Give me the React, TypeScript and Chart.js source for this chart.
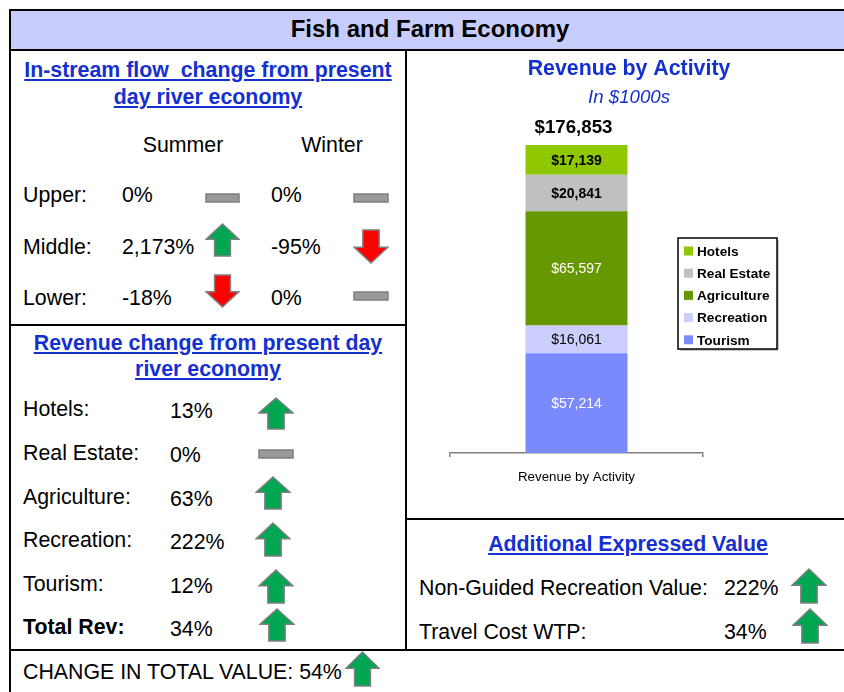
import React, { useEffect, useRef } from "react";
import { Chart, registerables } from "chart.js";

Chart.register(...registerables);

// ---------- data ----------
const CATEGORIES = ["Revenue by Activity"];
const ACTIVITIES = ["Tourism", "Recreation", "Agriculture", "Real Estate", "Hotels"];
const REVENUE = [57214, 16061, 65597, 20841, 17139];
const TOTAL_REVENUE = 176853;
const BAR_COLORS = ["#7A89FB", "#CBCEFD", "#669900", "#C0C0C0", "#8FC800"];
const LABEL_COLORS = ["#FFFFFF", "#000000", "#FFFFFF", "#000000", "#000000"];
const LABEL_BOLD = [false, false, false, true, true];

const REACHES = ["Upper:", "Middle:", "Lower:"];
const SUMMER_CHANGE = ["0%", "2,173%", "-18%"];
const WINTER_CHANGE = ["0%", "-95%", "0%"];
const SUMMER_TREND = ["flat", "up", "down"];
const WINTER_TREND = ["flat", "down", "flat"];

const REV_LABELS = ["Hotels:", "Real Estate:", "Agriculture:", "Recreation:", "Tourism:", "Total Rev:"];
const REV_CHANGE = ["13%", "0%", "63%", "222%", "12%", "34%"];
const REV_TREND = ["up", "flat", "up", "up", "up", "up"];

const EXTRA_LABELS = ["Non-Guided Recreation Value:", "Travel Cost WTP:"];
const EXTRA_VALUES = ["222%", "34%"];
const TOTAL_VALUE_CHANGE = "54%";

// ---------- styling ----------
const FONT = "Arial, 'Liberation Sans', Helvetica, sans-serif";
const BLUE = "#1530D0";
const BODY = 21.33;

type TxtProps = {
  x: number;
  y: number;
  text: string;
  size?: number;
  bold?: boolean;
  italic?: boolean;
  underline?: boolean;
  color?: string;
  center?: boolean;
};

function Txt({ x, y, text, size = BODY, bold, italic, underline, color = "#000", center }: TxtProps) {
  const style: React.CSSProperties = {
    position: "absolute",
    top: y - 0.4885 * size,
    fontSize: size,
    lineHeight: `${size}px`,
    fontWeight: bold ? "bold" : "normal",
    fontStyle: italic ? "italic" : "normal",
    textDecoration: underline ? "underline" : "none",
    color,
    whiteSpace: "pre",
    fontFamily: FONT,
  };
  if (center) {
    style.left = x - 300;
    style.width = 600;
    style.textAlign = "center";
  } else {
    style.left = x;
  }
  return <div style={style}>{text}</div>;
}

function Icon({ kind, x, y, w, h }: { kind: string; x: number; y: number; w: number; h: number }) {
  let shape: React.ReactNode;
  const pad = 1;
  const W = w - 2 * pad;
  const H = h - 2 * pad;
  if (kind === "flat") {
    shape = <rect x={pad} y={pad} width={W} height={H} fill="#999999" stroke="#7F7F7F" strokeWidth={1.5} />;
  } else {
    const hh = H * 0.48;
    const sw = W * 0.48;
    const cx = pad + W / 2;
    let pts: number[][];
    if (kind === "up") {
      pts = [
        [cx, pad], [pad + W, pad + hh], [cx + sw / 2, pad + hh], [cx + sw / 2, pad + H],
        [cx - sw / 2, pad + H], [cx - sw / 2, pad + hh], [pad, pad + hh],
      ];
    } else {
      pts = [
        [cx, pad + H], [pad + W, pad + H - hh], [cx + sw / 2, pad + H - hh], [cx + sw / 2, pad],
        [cx - sw / 2, pad], [cx - sw / 2, pad + H - hh], [pad, pad + H - hh],
      ];
    }
    shape = (
      <polygon
        points={pts.map((p) => p.join(",")).join(" ")}
        fill={kind === "up" ? "#00A651" : "#FF0000"}
        stroke="#7F7F7F"
        strokeWidth={1.5}
        strokeLinejoin="miter"
      />
    );
  }
  return (
    <svg style={{ position: "absolute", left: x, top: y }} width={w} height={h}>
      {shape}
    </svg>
  );
}

function Line({ l, t, w, h }: { l: number; t: number; w: number; h: number }) {
  return <div style={{ position: "absolute", left: l, top: t, width: w, height: h, background: "#000" }} />;
}

// ---------- chart plugin ----------
const stackLabels = {
  id: "stackLabels",
  afterDatasetsDraw(chart: any) {
    const ctx = chart.ctx;
    const area = chart.chartArea;
    ctx.save();
    ctx.textAlign = "center";
    ctx.textBaseline = "middle";
    let topY = area.bottom;
    let barX = 0;
    chart.data.datasets.forEach((ds: any, i: number) => {
      const meta = chart.getDatasetMeta(i);
      meta.data.forEach((el: any, j: number) => {
        const v = ds.data[j];
        const cy = (el.y + el.base) / 2;
        ctx.font = `${LABEL_BOLD[i] ? "bold " : ""}14px ${FONT}`;
        ctx.fillStyle = LABEL_COLORS[i];
        ctx.fillText("$" + v.toLocaleString("en-US"), el.x, cy + 1);
        topY = Math.min(topY, el.y);
        barX = el.x;
      });
    });
    // total above the stack
    ctx.font = `bold 18.67px ${FONT}`;
    ctx.fillStyle = "#000";
    ctx.fillText("$" + TOTAL_REVENUE.toLocaleString("en-US"), barX - 3, topY - 17);

    // legend
    const lx = area.right - 25;
    const ly = area.top + 93;
    const lw = 99;
    const lh = 111;
    ctx.fillStyle = "#FFFFFF";
    ctx.fillRect(lx, ly, lw, lh);
    ctx.strokeStyle = "#909090";
    ctx.lineWidth = 1;
    ctx.beginPath();
    ctx.moveTo(lx + 2, ly + lh + 1);
    ctx.lineTo(lx + lw + 1, ly + lh + 1);
    ctx.lineTo(lx + lw + 1, ly + 2);
    ctx.stroke();
    ctx.strokeStyle = "#000";
    ctx.lineWidth = 1.5;
    ctx.strokeRect(lx, ly, lw, lh);
    ctx.textAlign = "left";
    ctx.font = `bold 13.6px ${FONT}`;
    const n = chart.data.datasets.length;
    for (let k = 0; k < n; k++) {
      const i = n - 1 - k;
      const ds = chart.data.datasets[i];
      const y = ly + 13 + k * 22.2;
      ctx.fillStyle = ds.backgroundColor;
      ctx.fillRect(lx + 6, y - 4.5, 9, 9);
      ctx.fillStyle = "#000";
      ctx.fillText(ds.label, lx + 19, y + 1);
    }
    ctx.restore();
  },
};

const hiddenAxis = (width: number, position: "left" | "right") => ({
  display: true,
  position,
  ticks: { display: false },
  grid: { display: false },
  border: { display: false },
  afterFit(scale: any) {
    scale.width = width;
  },
});

function RevenueChart() {
  const ref = useRef<HTMLCanvasElement | null>(null);
  useEffect(() => {
    if (!ref.current) return;
    const chart = new Chart(ref.current, {
      type: "bar",
      data: {
        labels: CATEGORIES,
        datasets: ACTIVITIES.map((name, i) => ({
          label: name,
          data: [REVENUE[i]],
          backgroundColor: BAR_COLORS[i],
          borderWidth: 0,
          barPercentage: 0.403,
          categoryPercentage: 1,
          yAxisID: "y",
        })),
      },
      options: {
        animation: false,
        responsive: false,
        devicePixelRatio: 1,
        layout: { padding: { left: 0, right: 0, top: 0, bottom: 21 } },
        scales: {
          x: {
            stacked: true,
            grid: {
              display: true,
              drawOnChartArea: false,
              drawTicks: true,
              tickLength: 4,
              color: "#808080",
              lineWidth: 1.5,
              offset: true,
            },
            border: { display: true, color: "#808080", width: 1.5 },
            ticks: { color: "#000", font: { size: 13.33, family: FONT }, padding: 12 },
          },
          y: { stacked: true, min: 0, max: TOTAL_REVENUE, ...hiddenAxis(43, "left") },
          yRight: { type: "linear", min: 0, max: 1, ...hiddenAxis(148, "right") },
        },
        plugins: {
          legend: { display: false },
          tooltip: { enabled: false },
          title: {
            display: true,
            text: "Revenue by Activity",
            color: BLUE,
            font: { size: 21.33, weight: "bold", family: FONT },
            padding: { top: 5, bottom: 5 },
          },
          subtitle: {
            display: true,
            text: "In $1000s",
            color: BLUE,
            font: { size: 18.67, style: "italic", family: FONT },
            padding: { top: 0, bottom: 36 },
          },
        },
      } as any,
      plugins: [stackLabels],
    });
    return () => chart.destroy();
  }, []);
  return (
    <canvas
      ref={ref}
      width={444}
      height={467}
      style={{ position: "absolute", left: 407, top: 51, width: 444, height: 467 }}
    />
  );
}

export default function App() {
  const reachY = [195, 247, 298];
  const reachIconSummer = [
    { y: 193, h: 10 },
    { y: 223, h: 34 },
    { y: 274, h: 34 },
  ];
  const reachIconWinter = [
    { y: 193, h: 10 },
    { y: 229, h: 35 },
    { y: 291, h: 10 },
  ];
  const revY = [409, 453, 497, 540, 584, 627];
  const revIcons = [
    { x: 258, y: 397, h: 33 },
    { x: 258, y: 449, h: 10 },
    { x: 255, y: 476, h: 34 },
    { x: 255, y: 522, h: 35 },
    { x: 258, y: 569, h: 35 },
    { x: 259, y: 608, h: 34 },
  ];
  const extraY = [588, 632];
  const extraIcons = [
    { x: 791, y: 568 },
    { x: 792, y: 608 },
  ];
  return (
    <div
      style={{
        position: "absolute",
        left: 0,
        top: 0,
        width: 844,
        height: 692,
        overflow: "hidden",
        background: "#fff",
        fontFamily: FONT,
      }}
    >
      {/* title band */}
      <div style={{ position: "absolute", left: 11, top: 11, width: 833, height: 38, background: "#C8CCFA" }} />
      <Line l={9} t={9} w={835} h={2} />
      <Line l={9} t={49} w={835} h={2} />
      <Line l={9} t={9} w={2} h={683} />
      <Line l={405} t={49} w={2} h={602} />
      <Line l={9} t={324} w={398} h={2} />
      <Line l={405} t={518} w={439} h={2} />
      <Line l={9} t={649} w={835} h={2} />

      <Txt x={430} y={29} text="Fish and Farm Economy" size={24} bold center />

      {/* In-stream flow panel */}
      <Txt x={208} y={70} text="In-stream flow  change from present" bold underline color={BLUE} center />
      <Txt x={208} y={97} text="day river economy" bold underline color={BLUE} center />
      <Txt x={183} y={145} text="Summer" center />
      <Txt x={332} y={145} text="Winter" center />
      {REACHES.map((r, i) => (
        <React.Fragment key={r}>
          <Txt x={23} y={reachY[i]} text={r} />
          <Txt x={122} y={reachY[i]} text={SUMMER_CHANGE[i]} />
          <Txt x={271} y={reachY[i]} text={WINTER_CHANGE[i]} />
          <Icon kind={SUMMER_TREND[i]} x={205} y={reachIconSummer[i].y} w={35} h={reachIconSummer[i].h} />
          <Icon kind={WINTER_TREND[i]} x={353} y={reachIconWinter[i].y} w={36} h={reachIconWinter[i].h} />
        </React.Fragment>
      ))}

      {/* Revenue change panel */}
      <Txt x={208} y={343} text="Revenue change from present day" bold underline color={BLUE} center />
      <Txt x={208} y={369} text="river economy" bold underline color={BLUE} center />
      {REV_LABELS.map((l, i) => (
        <React.Fragment key={l}>
          <Txt x={23} y={revY[i]} text={l} bold={i === REV_LABELS.length - 1} />
          <Txt x={170} y={revY[i] + 2} text={REV_CHANGE[i]} />
          <Icon kind={REV_TREND[i]} x={revIcons[i].x} y={revIcons[i].y} w={36} h={revIcons[i].h} />
        </React.Fragment>
      ))}

      {/* bottom row */}
      <Txt x={23} y={672} text={"CHANGE IN TOTAL VALUE: " + TOTAL_VALUE_CHANGE} />
      <Icon kind="up" x={345} y={651} w={35} h={36} />

      {/* Additional expressed value */}
      <Txt x={628} y={544} text="Additional Expressed Value" bold underline color={BLUE} center />
      {EXTRA_LABELS.map((l, i) => (
        <React.Fragment key={l}>
          <Txt x={419} y={extraY[i]} text={l} />
          <Txt x={724} y={extraY[i]} text={EXTRA_VALUES[i]} />
          <Icon kind="up" x={extraIcons[i].x} y={extraIcons[i].y} w={36} h={36} />
        </React.Fragment>
      ))}

      <RevenueChart />
    </div>
  );
}
